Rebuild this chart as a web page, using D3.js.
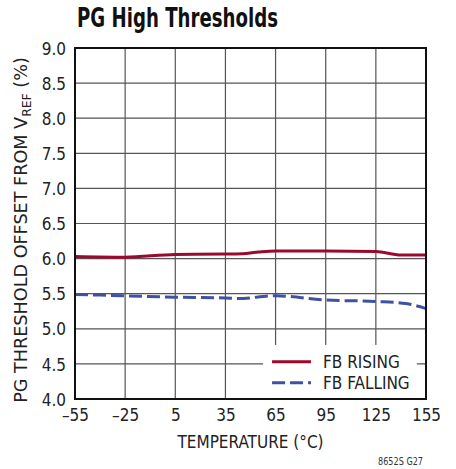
<!DOCTYPE html>
<html>
<head>
<meta charset="utf-8">
<script src="https://cdn.jsdelivr.net/npm/d3@7"></script>
<style>
  body { margin: 0; background: #fff; }
  text { font-family: "Liberation Sans Narrow", "DejaVu Sans Condensed", sans-serif; }
</style>
</head>
<body>
<div id="chart"></div>
<script>
// PG high thresholds vs temperature

var temps = [-55, -25, 5, 35, 45, 55, 65, 95, 125, 140, 155];
var rising = [6.03, 6.02, 6.06, 6.065, 6.07, 6.095, 6.11, 6.11, 6.10, 6.05, 6.05];
var fallTemps = [-55, -25, 5, 35, 42, 65, 95, 125, 143, 155];
var falling = [5.49, 5.47, 5.45, 5.44, 5.43, 5.47, 5.41, 5.39, 5.36, 5.29];
var xTicks = [-55, -25, 5, 35, 65, 95, 125, 155];
var yTicks = [4.0, 4.5, 5.0, 5.5, 6.0, 6.5, 7.0, 7.5, 8.0, 8.5, 9.0];

var svgWidth = 456;
var svgHeight = 469;

var margin = { top: 48, right: 30, bottom: 70, left: 75 };
var width = 351;
var height = 351;

var svg = d3.select("#chart")
  .append("svg")
  .attr("width", svgWidth)
  .attr("height", svgHeight);

var chartGroup = svg.append("g")
  .attr("transform", `translate(${margin.left}, ${margin.top})`);

var xScale = d3.scaleLinear().domain([-55, 155]).range([0, width]);
var yScale = d3.scaleLinear().domain([4, 9]).range([height, 0]);

// squeeze a text element to a given width (no narrow font installed)
function fitWidth(sel, w) {
  var len = sel.node().getComputedTextLength();
  return w / len;
}

// title
var title = svg.append("text")
  .attr("font-size", "26px")
  .attr("font-weight", "bold")
  .attr("fill", "#111")
  .text("PG High Thresholds");
title.attr("transform", `translate(77, 27) scale(${fitWidth(title, 201)}, 1)`);

// grid
chartGroup.append("g")
  .selectAll("line")
  .data(xTicks.slice(1, -1))
  .enter()
  .append("line")
  .attr("x1", d => xScale(d)).attr("x2", d => xScale(d))
  .attr("y1", 0).attr("y2", height)
  .attr("stroke", "#555").attr("stroke-width", 1.2);

chartGroup.append("g")
  .selectAll("line")
  .data(yTicks.slice(1, -1))
  .enter()
  .append("line")
  .attr("y1", d => yScale(d)).attr("y2", d => yScale(d))
  .attr("x1", 0).attr("x2", width)
  .attr("stroke", "#555").attr("stroke-width", 1.2);

// legend background hides the grid
chartGroup.append("rect")
  .attr("x", xScale(57.5))
  .attr("y", yScale(4.77))
  .attr("width", xScale(149.5) - xScale(57.5))
  .attr("height", yScale(4) - yScale(4.77))
  .attr("fill", "#fff");

// axes
var bottomAxis = d3.axisBottom(xScale).tickValues(xTicks).tickSize(0).tickPadding(10)
  .tickFormat(d => String(d).replace("-", "\u2013"));
var leftAxis = d3.axisLeft(yScale).tickValues(yTicks).tickSize(0).tickPadding(9)
  .tickFormat(d3.format(".1f"));

var gx = chartGroup.append("g")
  .attr("transform", `translate(0, ${height})`)
  .call(bottomAxis);
gx.select(".domain").remove();
gx.selectAll("text").attr("font-size", "17px").attr("fill", "#222")
  .attr("font-family", "Liberation Sans Narrow, DejaVu Sans Condensed, sans-serif");

var gy = chartGroup.append("g").call(leftAxis);
gy.select(".domain").remove();
gy.selectAll("text").attr("font-size", "17px").attr("fill", "#222").attr("dy", "0.36em")
  .attr("font-family", "Liberation Sans Narrow, DejaVu Sans Condensed, sans-serif");

// lines
var line = d3.line()
  .x(d => xScale(d[0]))
  .y(d => yScale(d[1]))
  .curve(d3.curveMonotoneX);

chartGroup.append("path")
  .datum(temps.map((t, i) => [t, rising[i]]))
  .attr("d", line)
  .attr("fill", "none")
  .attr("stroke", "#9a0a2e")
  .attr("stroke-width", 3);

chartGroup.append("path")
  .datum(fallTemps.map((t, i) => [t, falling[i]]))
  .attr("d", line)
  .attr("fill", "none")
  .attr("stroke", "#3f51a3")
  .attr("stroke-width", 3)
  .attr("stroke-dasharray", "13,5");

// frame
chartGroup.append("rect")
  .attr("x", 0).attr("y", 0)
  .attr("width", width).attr("height", height)
  .attr("fill", "none")
  .attr("stroke", "#111")
  .attr("stroke-width", 2);

// legend
var legend = chartGroup.append("g");
var items = [["FB RISING", "#9a0a2e", null], ["FB FALLING", "#3f51a3", "13,5"]];
items.forEach(function(it, i) {
  var yy = yScale(4.53) + i * 21;
  legend.append("line")
    .attr("x1", xScale(62.9)).attr("x2", xScale(86.2))
    .attr("y1", yy).attr("y2", yy)
    .attr("stroke", it[1]).attr("stroke-width", 3)
    .attr("stroke-dasharray", it[2]);
  legend.append("text")
    .attr("x", xScale(93.4)).attr("y", yy)
    .attr("dy", "0.36em")
    .attr("font-size", "17px").attr("fill", "#222")
    .text(it[0]);
});

// axis titles
svg.append("text")
  .attr("x", margin.left + width / 2)
  .attr("y", 448)
  .attr("text-anchor", "middle")
  .attr("font-size", "17px").attr("fill", "#222")
  .text("TEMPERATURE (\u00B0C)");

var yt = svg.append("text")
  .attr("text-anchor", "middle")
  .attr("font-size", "17px").attr("fill", "#222");
yt.append("tspan").text("PG THRESHOLD OFFSET FROM  V");
yt.append("tspan").attr("font-size", "12px").attr("dy", "4").text("REF");
yt.append("tspan").attr("dy", "-4").text(" (%)");
var ytLen = yt.node().getBBox().width;
yt.attr("transform", `translate(27, 230) rotate(-90) scale(${346 / ytLen}, 1)`);

var code = svg.append("text")
  .attr("text-anchor", "end")
  .attr("font-size", "11px").attr("fill", "#333")
  .text("8652S G27");
code.attr("transform", `translate(423, 465) scale(${fitWidth(code, 45)}, 1)`);
</script>
</body>
</html>
